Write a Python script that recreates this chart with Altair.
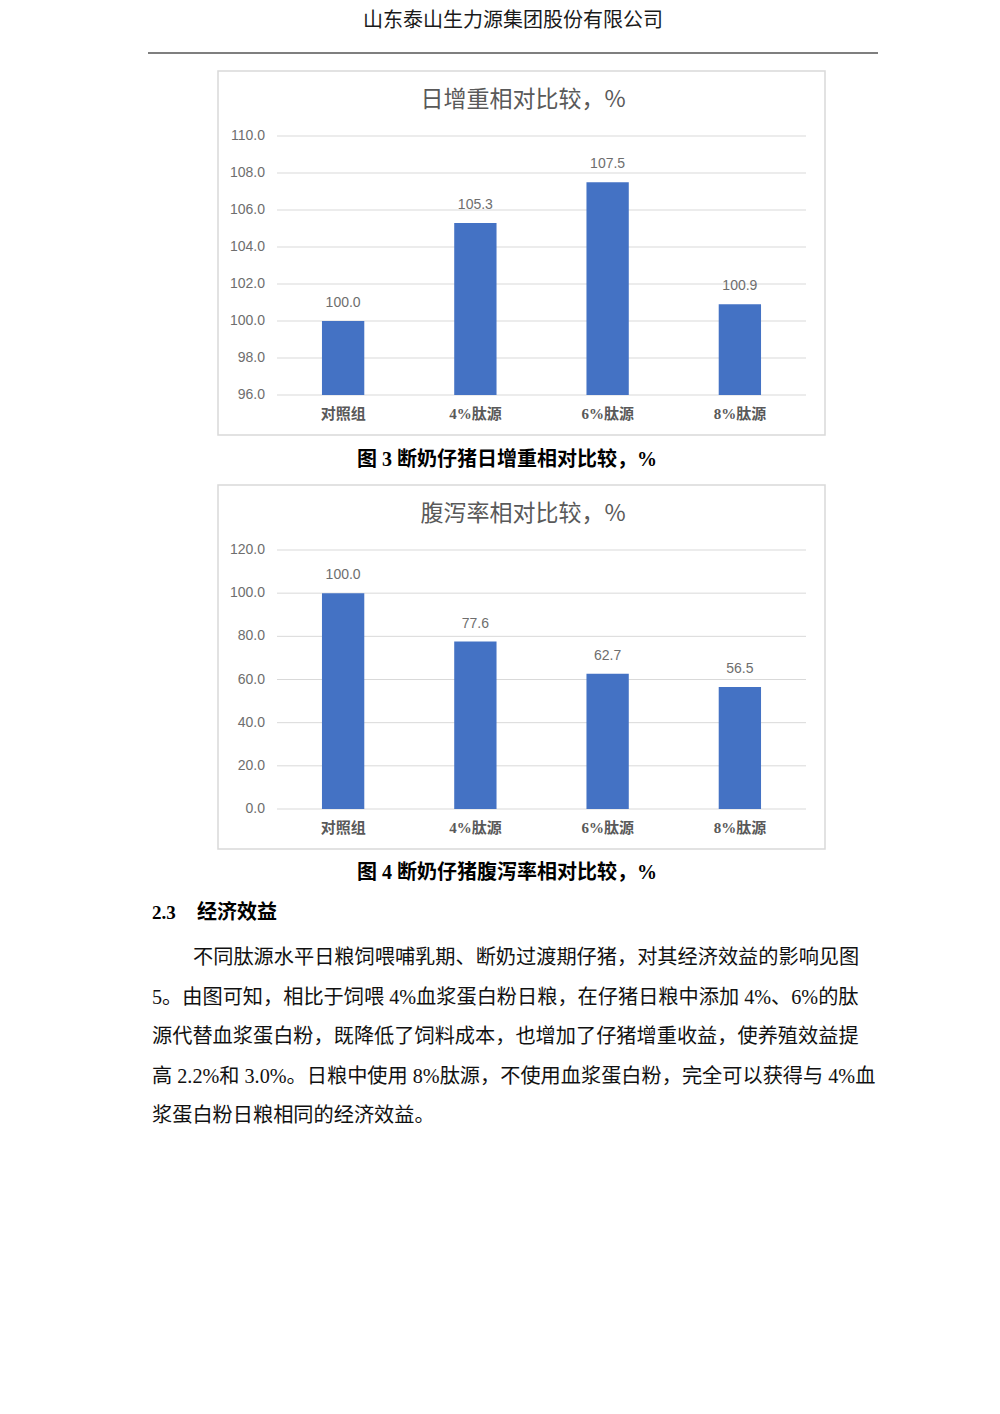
import altair as alt
import pandas as pd

# ---------------- data ----------------
header_text = ["山东泰山生力源集团股份有限公司"]
categories = ["对照组", "4%肽源", "6%肽源", "8%肽源"]

gain_title = ["日增重相对比较，%"]
gain_values = [100.0, 105.3, 107.5, 100.9]
gain_ticks = [96.0, 98.0, 100.0, 102.0, 104.0, 106.0, 108.0, 110.0]

diarrhea_title = ["腹泻率相对比较，%"]
diarrhea_values = [100.0, 77.6, 62.7, 56.5]
diarrhea_ticks = [0.0, 20.0, 40.0, 60.0, 80.0, 100.0, 120.0]

caption_3 = ["图 3 断奶仔猪日增重相对比较，%"]
caption_4 = ["图 4 断奶仔猪腹泻率相对比较，%"]
section_number = ["2.3"]
section_title = ["经济效益"]
paragraph_lines = [
    "不同肽源水平日粮饲喂哺乳期、断奶过渡期仔猪，对其经济效益的影响见图",
    "5。由图可知，相比于饲喂 4%血浆蛋白粉日粮，在仔猪日粮中添加 4%、6%的肽",
    "源代替血浆蛋白粉，既降低了饲料成本，也增加了仔猪增重收益，使养殖效益提",
    "高 2.2%和 3.0%。日粮中使用 8%肽源，不使用血浆蛋白粉，完全可以获得与 4%血",
    "浆蛋白粉日粮相同的经济效益。",
]

# ---------------- styles ----------------
W = 984
SERIF = "Liberation Serif, Noto Sans CJK SC"
SANS_CJK = "Noto Sans CJK SC"
NUM = "Liberation Sans"
GRAY = "#595959"
BAR = "#4472C4"
GRID = "#d9d9d9"


def text_layer(values, x, y, size, font, color="#000000", weight="normal", align="center"):
    df = pd.DataFrame({"t": values})
    return alt.Chart(df).mark_text(
        font=font, fontSize=size, fontWeight=weight, color=color,
        align=align, baseline="middle"
    ).encode(x=alt.value(x), y=alt.value(y), text="t:N")


def bar_panel(title, values, ticks, height=382):
    df = pd.DataFrame({
        "cat": categories,
        "val": values,
        "lab": [f"{v:.1f}" for v in values],
    })
    tdf = pd.DataFrame({"tick": ticks, "lab": [f"{t:.1f}" for t in ticks]})
    xs = alt.Scale(domain=categories, range=[269, 798], paddingInner=0.68, paddingOuter=0.34)
    ys = alt.Scale(domain=[min(ticks), max(ticks)], range=[332, 73], nice=False, zero=False)

    frame = alt.Chart(pd.DataFrame({"a": [0]})).mark_rect(
        fill="#ffffff", stroke=GRID, strokeWidth=1.5
    ).encode(x=alt.value(210), x2=alt.value(817), y=alt.value(8), y2=alt.value(372))

    grid = alt.Chart(tdf).mark_rule(color=GRID, strokeWidth=1).encode(
        y=alt.Y("tick:Q", scale=ys, axis=None), x=alt.value(269), x2=alt.value(798)
    )
    ylabels = alt.Chart(tdf).mark_text(
        align="right", baseline="middle", font=NUM, fontSize=14, color="#6e6e6e"
    ).encode(y=alt.Y("tick:Q", scale=ys, axis=None), x=alt.value(257), text="lab:N")

    bars = alt.Chart(df).mark_bar(color=BAR).encode(
        x=alt.X("cat:N", scale=xs, sort=categories, axis=None),
        y=alt.Y("val:Q", scale=ys, axis=None),
        y2=alt.datum(min(ticks)),
    )
    vlabels = alt.Chart(df).mark_text(
        baseline="middle", dy=-18, font=NUM, fontSize=14, color="#6e6e6e"
    ).encode(
        x=alt.X("cat:N", scale=xs, sort=categories, axis=None),
        y=alt.Y("val:Q", scale=ys, axis=None),
        text="lab:N",
    )
    xlabels = alt.Chart(df).mark_text(
        baseline="middle", font=SERIF, fontSize=15, fontWeight="bold", color=GRAY
    ).encode(
        x=alt.X("cat:N", scale=xs, sort=categories, axis=None),
        y=alt.value(351),
        text="cat:N",
    )
    ttl = text_layer(title, 515, 37, 23, SANS_CJK, color=GRAY)

    return alt.layer(frame, grid, ylabels, bars, vlabels, xlabels, ttl).properties(
        width=W, height=height
    )


# header panel
header = alt.layer(
    text_layer(header_text, 505, 13, 20, SANS_CJK, color="#1a1a1a"),
    alt.Chart(pd.DataFrame({"a": [0]})).mark_rule(color="#000000", strokeWidth=1.2).encode(
        x=alt.value(140), x2=alt.value(870), y=alt.value(45)
    ),
).properties(width=W, height=55)

chart1 = bar_panel(gain_title, gain_values, gain_ticks)

cap3 = text_layer(caption_3, 499, 15, 20, SERIF, weight="bold").properties(width=W, height=32)

chart2 = bar_panel(diarrhea_title, diarrhea_values, diarrhea_ticks)

# text panel
text_layers = [
    text_layer(caption_4, 499, 14, 20, SERIF, weight="bold"),
    text_layer(section_number, 144, 54, 19, SERIF, weight="bold", align="left"),
    text_layer(section_title, 189, 54, 20, SERIF, weight="bold", align="left"),
]
line_x = [185, 144, 144, 144, 144]
for i, line in enumerate(paragraph_lines):
    text_layers.append(
        text_layer([line], line_x[i], 99 + i * 39.5, 20.2, SERIF, color="#111111", align="left")
    )
body = alt.layer(*text_layers).properties(width=W, height=547)

chart = alt.vconcat(header, chart1, cap3, chart2, body, spacing=0).properties(
    padding=0, background="#ffffff"
).configure_view(strokeWidth=0)

chart.save("out.html", embed_options={"renderer": "svg", "actions": False})
